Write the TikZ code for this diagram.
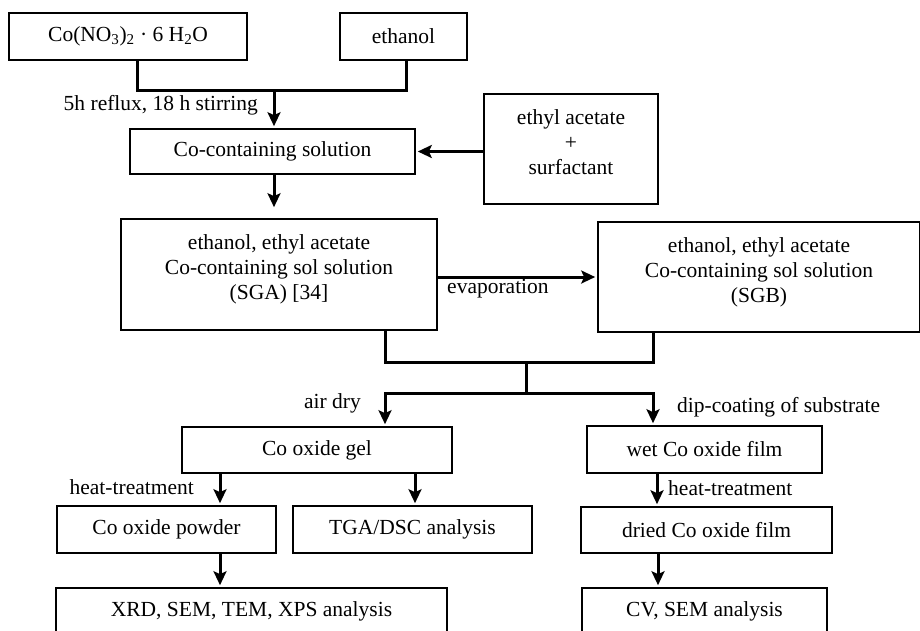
\documentclass[tikz,border=0pt]{standalone}
\usepackage{fontspec}
\setmainfont{Liberation Serif}
\usetikzlibrary{arrows.meta}
\tikzset{
  box/.style={draw=black, line width=1.6pt, fill=white, align=center, inner sep=0pt,
    font=\fontsize{21.5}{25}\selectfont},
  link/.style={draw=black, line width=3pt},
  arr/.style={link, -{Stealth[length=14pt, width=13pt, inset=3pt]}, shorten >=2pt},
  lbl/.style={inner sep=0pt, font=\fontsize{21.5}{25}\selectfont},
}
\newcommand{\liftup}{\\[-11pt]\mbox{}}

\begin{document}
\begin{tikzpicture}[x=1pt, y=-1pt]
\useasboundingbox (0,0) rectangle (920,630);
\clip (0,0) rectangle (920,630);

% boxes
\node[box, minimum width=238pt, minimum height=47pt] (conitrate) at (128,36.5) {Co(NO\textsubscript{3})\textsubscript{2} · 6 H\textsubscript{2}O};
\node[box, minimum width=127pt, minimum height=47pt] (ethanol) at (403.5,36.5) {ethanol};
\node[box, minimum width=285pt, minimum height=45pt] (cosol) at (272.5,151.5) {Co-containing solution};
\node[box, minimum width=174pt, minimum height=110pt] (ethac) at (571,149) {ethyl acetate\\+\\surfactant\liftup};
\node[box, minimum width=316pt, minimum height=111pt] (sga) at (279,274.5) {ethanol, ethyl acetate\\Co-containing sol solution\\(SGA) [34]\liftup};
\node[box, minimum width=322pt, minimum height=110pt] (sgb) at (759,277) {ethanol, ethyl acetate\\Co-containing sol solution\\(SGB)\liftup};
\node[box, minimum width=270pt, minimum height=46pt] (gel) at (317,450) {Co oxide gel};
\node[box, minimum width=235pt, minimum height=47pt] (wetfilm) at (704.5,449.5) {wet Co oxide film};
\node[box, minimum width=219pt, minimum height=47pt] (powder) at (166.5,529.5) {Co oxide powder};
\node[box, minimum width=239pt, minimum height=47pt] (tga) at (412.5,529.5) {TGA/DSC analysis};
\node[box, minimum width=251pt, minimum height=46pt] (driedfilm) at (706.5,530) {dried Co oxide film};
\node[box, minimum width=391pt, minimum height=46pt] (xrd) at (251.5,611) {XRD, SEM, TEM, XPS analysis};
\node[box, minimum width=245pt, minimum height=46pt] (cv) at (704.5,611) {CV, SEM analysis};

% junctions
\coordinate (mixtop) at (274,90);
\coordinate (soltop) at (526,362);
\coordinate (solbot) at (526,393);

% connectors
\draw[link] ([xshift=9pt]conitrate.south) |- (mixtop) -| ([xshift=2.5pt]ethanol.south);
\draw[arr] (mixtop) -- (mixtop |- cosol.north);
\draw[arr] (ethac.west |- cosol.east) -- (cosol.east);
\draw[arr, shorten >=11pt] (cosol.south -| mixtop) -- (sga.north -| mixtop);
\draw[arr] ([yshift=-2.5pt]sga.east) -- ([yshift=-2.5pt]sga.east -| sgb.west);
\draw[link] ([xshift=106pt]sga.south) |- (soltop) -| ([xshift=-106pt]sgb.south);
\draw[link] (soltop) -- (solbot);
\draw[arr] (solbot) -| ([xshift=68pt]gel.north);
\draw[arr] (solbot) -| ([xshift=-51.5pt]wetfilm.north);
\draw[arr] ([xshift=-97pt]gel.south) -- ([xshift=-97pt]gel.south |- powder.north);
\draw[arr] ([xshift=98pt]gel.south) -- ([xshift=98pt]gel.south |- tga.north);
\draw[arr] ([xshift=53.5pt]powder.south) -- ([xshift=53.5pt]powder.south |- xrd.north);
\draw[arr] ([xshift=-47.5pt]wetfilm.south) -- ([xshift=-47.5pt]wetfilm.south |- driedfilm.north);
\draw[arr] ([xshift=-48.5pt]driedfilm.south) -- ([xshift=-48.5pt]driedfilm.south |- cv.north);

% labels
\node[lbl, anchor=east] (reflux) at (258,105) {5h reflux, 18 h stirring};
\node[lbl, anchor=north west] (evap) at (447,279) {evaporation};
\node[lbl, anchor=east] (airdry) at (361,403) {air dry};
\node[lbl, anchor=west] (dipcoat) at (677,407) {dip-coating of substrate};
\node[lbl, anchor=east] (heatpowder) at (194,487) {heat-treatment};
\node[lbl, anchor=west] (heatfilm) at (668,488) {heat-treatment};

\end{tikzpicture}
\end{document}
